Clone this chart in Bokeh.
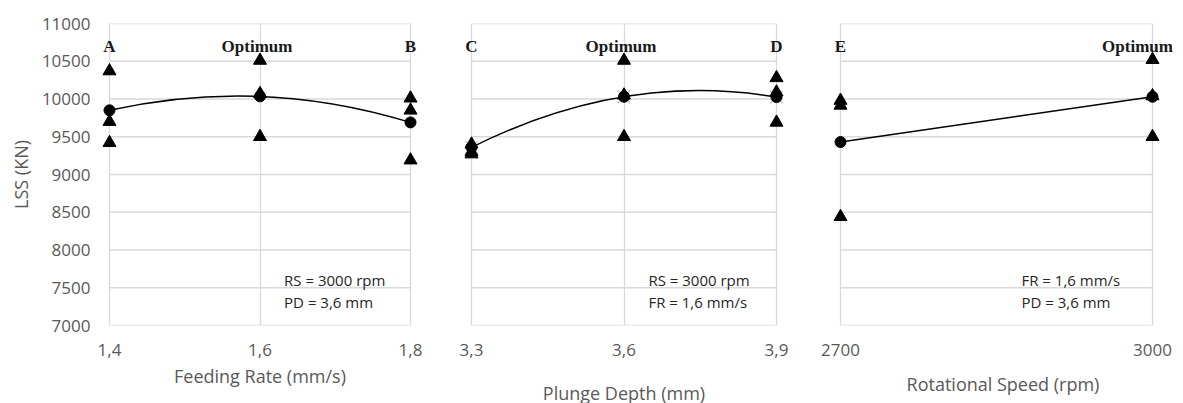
from bokeh.plotting import figure
from bokeh.layouts import row
from bokeh.models import FixedTicker, CustomJSTickFormatter, Label
from bokeh.embed import file_html
from bokeh.resources import INLINE

# ---------------- data ----------------
y_ticks = [7000, 7500, 8000, 8500, 9000, 9500, 10000, 10500, 11000]

fr_x = [1.4, 1.6, 1.8]
fr_mean = [9850, 10035, 9690]
fr_tri_x = [1.4, 1.4, 1.4, 1.6, 1.6, 1.6, 1.8, 1.8, 1.8]
fr_tri_y = [10370, 9700, 9420, 10510, 10070, 9500, 10010, 9850, 9190]
fr_labels = ["A", "Optimum", "B"]
fr_note = ["RS = 3000 rpm", "PD = 3,6  mm"]

pd_x = [3.3, 3.6, 3.9]
pd_mean = [9360, 10030, 10025]
pd_tri_x = [3.3, 3.3, 3.3, 3.6, 3.6, 3.6, 3.9, 3.9, 3.9]
pd_tri_y = [9400, 9300, 9270, 10510, 10050, 9500, 10280, 10090, 9690]
pd_labels = ["C", "Optimum", "D"]
pd_note = ["RS = 3000 rpm", "FR = 1,6 mm/s"]

rs_x = [2700, 3000]
rs_mean = [9430, 10030]
rs_tri_x = [2700, 2700, 2700, 3000, 3000, 3000]
rs_tri_y = [9980, 9915, 8440, 10520, 10040, 9500]
rs_labels = ["E", "Optimum"]
rs_note = ["FR = 1,6 mm/s", "PD = 3,6  mm"]

# ---------------- style ----------------
GRID = "#d9d9d9"
TXT = "#595959"
FONT = "Open Sans"
SERIF = "Liberation Serif"
PAD_PX = 9
FRAME_H = 302
TOP = 23
H = 400
BOTTOM = H - TOP - FRAME_H


def make_panel(xs, means, tx, ty, labels, label_xoff, note, note_x, xtitle, title_standoff,
               inner_w, left, right, show_y, curve, gray_x=False, comma=True, pad_right=PAD_PX,
               margin=(0, 0, 0, 0)):
    span = xs[-1] - xs[0]
    pad_l = PAD_PX / inner_w * span
    pad_r = pad_right / inner_w * span
    p = figure(frame_width=inner_w + PAD_PX + pad_right, frame_height=FRAME_H,
               x_range=(xs[0] - pad_l, xs[-1] + pad_r), y_range=(y_ticks[0], y_ticks[-1]),
               min_border_left=left, min_border_right=right, min_border_top=TOP,
               min_border_bottom=BOTTOM, margin=margin,
               output_backend="svg", toolbar_location=None)
    p.outline_line_color = None
    p.background_fill_color = "white"
    p.border_fill_color = "white"

    # grid: vertical lines via xgrid, horizontal via segments limited to data span
    p.xaxis.ticker = FixedTicker(ticks=xs)
    p.xgrid.ticker = FixedTicker(ticks=xs)
    p.xgrid.grid_line_color = GRID
    p.xgrid.grid_line_width = 1.3
    p.ygrid.grid_line_color = None
    p.segment(x0=[xs[0]] * len(y_ticks), x1=[xs[-1]] * len(y_ticks), y0=y_ticks, y1=y_ticks,
              line_color=GRID, line_width=1.3)

    if comma:
        p.xaxis.formatter = CustomJSTickFormatter(code="return tick.toFixed(1).replace('.', ',');")
    for ax in (p.xaxis, p.yaxis):
        ax.axis_line_color = None
        ax.major_tick_line_color = None
        ax.minor_tick_line_color = None
        ax.major_tick_out = 0
        ax.major_tick_in = 0
        ax.minor_tick_out = 0
        ax.major_label_text_font = FONT
        ax.major_label_text_font_size = "17px"
        ax.major_label_text_color = TXT
        ax.axis_label_text_font = FONT
        ax.axis_label_text_font_size = "18px"
        ax.axis_label_text_font_style = "normal"
        ax.axis_label_text_color = TXT
    p.xaxis.major_label_standoff = 18
    p.xaxis.axis_label = xtitle
    p.xaxis.axis_label_standoff = title_standoff

    p.yaxis.ticker = FixedTicker(ticks=y_ticks)
    if show_y:
        p.yaxis.axis_label = "LSS (KN)"
        p.yaxis.major_label_standoff = 10
        p.yaxis.axis_label_standoff = 6
    else:
        p.yaxis.visible = False

    # fitted curve
    if curve == "quad":
        cy = 2 * means[1] - (means[0] + means[2]) / 2
        p.quadratic(x0=[xs[0]], y0=[means[0]], x1=[xs[2]], y1=[means[2]],
                    cx=[xs[1]], cy=[cy], line_color="black", line_width=1.5)
    else:
        p.line(xs, means, line_color="black", line_width=1.5)

    if gray_x:
        p.scatter(xs, means, marker="x", size=18, line_color="#c8c8c8", line_width=1.5)
    p.scatter(tx, ty, marker="triangle", size=13, fill_color="black", line_color="black")
    p.scatter(xs, means, marker="circle", size=11, fill_color="black", line_color="black")

    # letter / optimum labels
    lab_x = xs if len(labels) == len(xs) else [xs[0], xs[-1]]
    for lx, txt, xo in zip(lab_x, labels, label_xoff):
        p.add_layout(Label(x=lx, y=10700, text=txt, text_align="center", x_offset=xo,
                           text_baseline="alphabetic", text_font=SERIF,
                           text_font_size="17px", text_font_style="bold",
                           text_color="#1a1a1a"))
    # condition notes
    for i, t in enumerate(note):
        p.add_layout(Label(x=note_x, y=7600 - 290 * i, text=t, text_align="left",
                           text_baseline="middle", text_font=FONT,
                           text_font_size="15px", text_color="#262626"))
    return p


p1 = make_panel(fr_x, fr_mean, fr_tri_x, fr_tri_y, fr_labels, [0, -3, 0], fr_note, 1.632,
                "Feeding Rate (mm/s)", 5, 301, 87, 21, True, "quad", margin=(0, 0, 0, 5))
p2 = make_panel(pd_x, pd_mean, pd_tri_x, pd_tri_y, pd_labels, [0, -3, 0], pd_note, 3.648,
                "Plunge Depth (mm)", 22, 305, 22, 23, False, "quad", gray_x=True)
p3 = make_panel(rs_x, rs_mean, rs_tri_x, rs_tri_y, rs_labels, [0, -15], rs_note, 2874,
                "Rotational Speed (rpm)", 13, 312, 23, 1, False, "line", comma=False,
                pad_right=22)

layout = row(p1, p2, p3, spacing=0)
open("out.html", "w").write(file_html(layout, INLINE))
